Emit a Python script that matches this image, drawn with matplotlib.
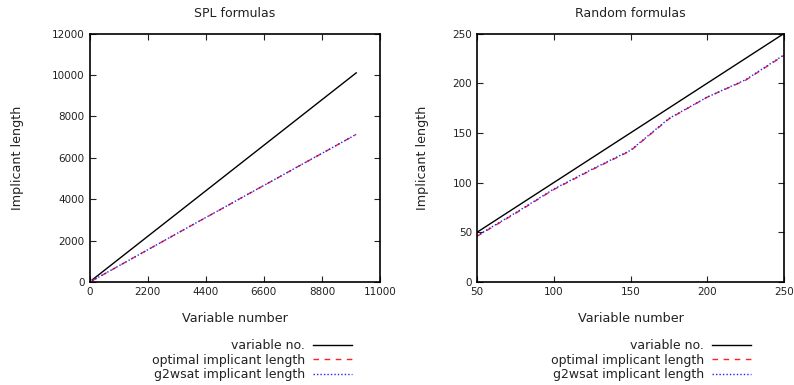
import numpy as np
import matplotlib as mpl
import matplotlib.pyplot as plt

mpl.rcParams['font.family'] = 'DejaVu Sans'
mpl.rcParams['text.color'] = '#222222'
mpl.rcParams['axes.labelcolor'] = '#222222'
mpl.rcParams['xtick.color'] = '#222222'
mpl.rcParams['ytick.color'] = '#222222'

# SPL formulas
spl_vars = [100, 1100, 2100, 3100, 4100, 5100, 6100, 7100, 8100, 9100, 10100]
spl_opt = [60, 770, 1480, 2190, 2900, 3600, 4310, 5010, 5720, 6420, 7130]
spl_g2w = [62, 772, 1482, 2192, 2902, 3602, 4312, 5012, 5722, 6422, 7132]

# Random formulas
rnd_vars = [50, 75, 100, 125, 150, 175, 200, 225, 250]
rnd_opt = [46, 69, 93, 113, 132, 164, 186, 203, 228]
rnd_g2w = [46.5, 69.5, 93.5, 113.5, 132.5, 164.5, 186, 203.5, 228.5]

labels = ['variable no.', 'optimal implicant length', 'g2wsat implicant length']

fig = plt.figure(figsize=(7.94, 3.85), dpi=100)
W, H = 794, 385

panels = [
    dict(rect=(89.5, 33.5, 380, 282), title='SPL formulas',
         x=spl_vars, opt=spl_opt, g2w=spl_g2w,
         xlim=(0, 11000), xticks=np.arange(0, 11001, 2200),
         ylim=(0, 12000), yticks=np.arange(0, 12001, 2000),
         leg_right=352, ylab_x=18),
    dict(rect=(477, 33.5, 784, 282), title='Random formulas',
         x=rnd_vars, opt=rnd_opt, g2w=rnd_g2w,
         xlim=(50, 250), xticks=np.arange(50, 251, 50),
         ylim=(0, 250), yticks=np.arange(0, 251, 50),
         leg_right=751, ylab_x=422),
]

for p in panels:
    x0, y0, x1, y1 = p['rect']
    ax = fig.add_axes([x0 / W, 1 - y1 / H, (x1 - x0) / W, (y1 - y0) / H])
    h1, = ax.plot(p['x'], p['x'], '-', color='black', lw=1)
    h2, = ax.plot(p['x'], p['opt'], '--', color='#ff2020', lw=1, dashes=(4, 4))
    h3, = ax.plot(p['x'], p['g2w'], ':', color='#2020ff', lw=1, dashes=(1, 1.5))
    ax.set_xlim(*p['xlim'])
    ax.set_ylim(*p['ylim'])
    ax.set_xticks(p['xticks'])
    ax.set_yticks(p['yticks'])
    ax.tick_params(direction='in', top=True, right=True, labelsize=7.5, length=4, width=0.8)
    for s in ax.spines.values():
        s.set_linewidth(1.2)
    ax.set_title(p['title'], fontsize=9, pad=12)
    ax.set_xlabel('Variable number', fontsize=9.2)
    ax.xaxis.set_label_coords(0.5, -(319 - y1) / (y1 - y0), transform=ax.transAxes)
    ax.set_ylabel('Implicant length', fontsize=9.2)
    ax.yaxis.set_label_coords(-(x0 - p['ylab_x']) / (x1 - x0), 0.5)
    ax.xaxis.label.set_va('center')
    ax.yaxis.label.set_va('center')

    fig.legend([h1, h2, h3], labels, loc='upper right',
               bbox_to_anchor=(p['leg_right'] / W, 1 - 339 / H),
               frameon=False, markerfirst=False, fontsize=9,
               labelspacing=0.13, handlelength=3.1, handletextpad=0.65,
               borderpad=0, borderaxespad=0)

fig.savefig('out.png', dpi=100)
